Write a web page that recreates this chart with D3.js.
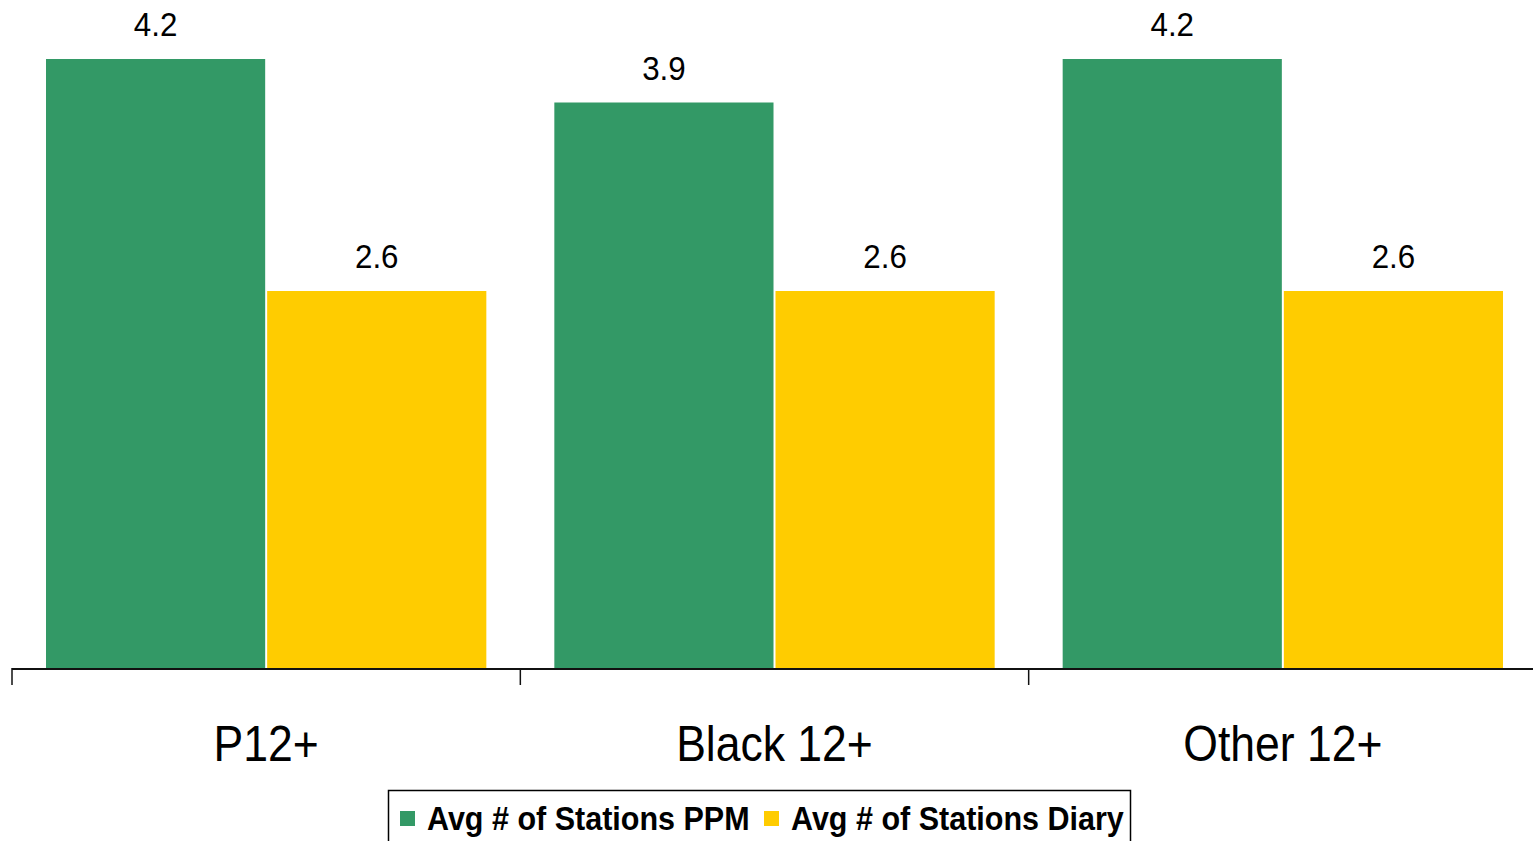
<!DOCTYPE html>
<html>
<head>
<meta charset="utf-8">
<script src="https://cdn.jsdelivr.net/npm/d3@7"></script>
<style>
  html, body { margin: 0; padding: 0; background: #fff; overflow: hidden; }
  svg { display: block; }
</style>
</head>
<body>
<svg id="chart" width="1533" height="841"></svg>
<script>
const categories = ["P12+", "Black 12+", "Other 12+"];
const seriesNames = ["Avg # of Stations PPM", "Avg # of Stations Diary"];
const ppmValues = [4.2, 3.9, 4.2];
const diaryValues = [2.6, 2.6, 2.6];
const colors = ["#339966", "#FFCC00"];

const svg = d3.select("#chart");
const W = 1533, H = 841;
const baseY = 668;

const x0 = d3.scaleBand().domain(categories).range([12, 1537]).padding(0);
const step = x0.step();
const x1 = d3.scaleBand().domain(seriesNames).range([34, step - 34]).paddingInner(0.009);
const y = d3.scaleLinear().domain([0, 4.2]).range([baseY, 59]);

const data = categories.map((c, i) => ({
  cat: c,
  vals: [
    { s: seriesNames[0], v: ppmValues[i], color: colors[0] },
    { s: seriesNames[1], v: diaryValues[i], color: colors[1] }
  ]
}));

const groups = svg.selectAll("g.grp").data(data).enter().append("g")
  .attr("class", "grp")
  .attr("transform", d => `translate(${x0(d.cat)},0)`);

groups.selectAll("rect").data(d => d.vals).enter().append("rect")
  .attr("x", d => x1(d.s))
  .attr("y", d => y(d.v))
  .attr("width", x1.bandwidth())
  .attr("height", d => baseY - y(d.v))
  .attr("fill", d => d.color);

groups.selectAll("text.val").data(d => d.vals).enter().append("text")
  .attr("class", "val")
  .attr("transform", d => `translate(${x1(d.s) + x1.bandwidth() / 2},${y(d.v) - 23}) scale(0.95,1)`)
  .attr("text-anchor", "middle")
  .attr("font-family", "Liberation Sans, Arial, sans-serif")
  .attr("font-size", 33)
  .attr("fill", "#000")
  .text(d => d.v.toFixed(1));

// axis
const axis = d3.axisBottom(x0).tickSize(0).tickFormat("");
const axG = svg.append("g").attr("transform", `translate(0,${baseY + 1})`).call(axis);
axG.select(".domain").remove();
svg.append("line")
  .attr("x1", 12).attr("x2", W)
  .attr("y1", baseY + 1).attr("y2", baseY + 1)
  .attr("stroke", "#111").attr("stroke-width", 2);
const boundaries = categories.map(c => x0(c));
svg.selectAll("line.tick").data(boundaries).enter().append("line")
  .attr("class", "tick")
  .attr("x1", d => d).attr("x2", d => d)
  .attr("y1", baseY).attr("y2", baseY + 17)
  .attr("stroke", "#111").attr("stroke-width", 1.5);

svg.selectAll("text.cat").data(categories).enter().append("text")
  .attr("class", "cat")
  .attr("transform", d => `translate(${x0(d) + step / 2},761) scale(0.89,1)`)
  .attr("text-anchor", "middle")
  .attr("font-family", "Liberation Sans, Arial, sans-serif")
  .attr("font-size", 50)
  .attr("fill", "#000")
  .text(d => d);

// legend
const legend = svg.append("g");
legend.append("rect")
  .attr("x", 388.5).attr("y", 790.5)
  .attr("width", 742).attr("height", 80)
  .attr("fill", "#fff").attr("stroke", "#000").attr("stroke-width", 1.5);
const legendX = [400, 764];
seriesNames.forEach((s, i) => {
  legend.append("rect")
    .attr("x", legendX[i]).attr("y", 811)
    .attr("width", 15).attr("height", 15)
    .attr("fill", colors[i]);
  legend.append("text")
    .attr("transform", `translate(${legendX[i] + 27},830) scale(0.925,1)`)
    .attr("font-family", "Liberation Sans, Arial, sans-serif")
    .attr("font-weight", "bold")
    .attr("font-size", 33)
    .attr("fill", "#000")
    .text(s);
});
</script>
</body>
</html>
